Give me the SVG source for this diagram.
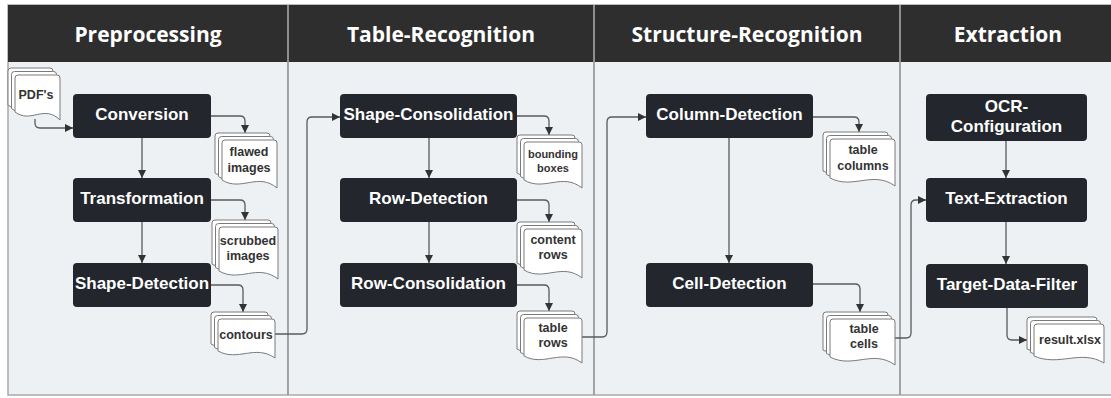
<svg xmlns="http://www.w3.org/2000/svg" width="1111" height="398" viewBox="0 0 1111 398">
<style>
.lane{fill:#eef1f4;stroke:#a9a9a9;stroke-width:1.5}
.hdr{fill:#2e2e2e}
.div{stroke:#9a9a9a;stroke-width:1.8}
.htxt{font-family:"Open Sans","Liberation Sans",sans-serif;font-weight:bold;font-size:21px;fill:#ffffff;text-anchor:middle}
.node{fill:#23262d}
.ntxt{font-family:"Liberation Sans",Arial,sans-serif;font-weight:bold;font-size:17px;fill:#ffffff;text-anchor:middle}
.pg{fill:#ffffff;stroke:#7a7a7a;stroke-width:1}
.dtxt{font-family:"Liberation Sans",Arial,sans-serif;font-weight:bold;font-size:12.5px;fill:#333333;text-anchor:middle}
.con{fill:none;stroke:#5a5a5a;stroke-width:1.3}
</style>
<defs>
<marker id="ah" viewBox="0 0 10 10" refX="10" refY="5" markerWidth="8" markerHeight="8" markerUnits="userSpaceOnUse" orient="auto">
<path d="M0,0 L10,5 L0,10 Z" fill="#333333"/>
</marker>
</defs>

<!-- frame / lanes -->
<g id="frame">
<rect class="lane" x="8" y="5" width="1112" height="390"/>
<rect class="hdr" x="8" y="5" width="1112" height="57"/>
<line class="div" x1="288" y1="5" x2="288" y2="395"/>
<line class="div" x1="594" y1="5" x2="594" y2="395"/>
<line class="div" x1="900" y1="5" x2="900" y2="395"/>
<text class="htxt" x="148" y="42">Preprocessing</text>
<text class="htxt" x="441" y="42">Table-Recognition</text>
<text class="htxt" x="747" y="42">Structure-Recognition</text>
<text class="htxt" x="1008" y="42">Extraction</text>
</g>

<!-- connectors -->
<g id="connectors">
<path class="con" marker-end="url(#ah)" d="M35,119 V123 Q35,128 40,128 H73"/>
<path class="con" marker-end="url(#ah)" d="M211,116 H240 Q245,116 245,121 V133"/>
<path class="con" marker-end="url(#ah)" d="M142,138 V178"/>
<path class="con" marker-end="url(#ah)" d="M211,200 H240 Q245,200 245,205 V220"/>
<path class="con" marker-end="url(#ah)" d="M142,222 V263"/>
<path class="con" marker-end="url(#ah)" d="M211,285 H238 Q243,285 243,290 V312"/>
<path class="con" marker-end="url(#ah)" d="M275,334 H302 Q307,334 307,329 V122 Q307,117 312,117 H340"/>
<path class="con" marker-end="url(#ah)" d="M517,116 H544 Q549,116 549,121 V135"/>
<path class="con" marker-end="url(#ah)" d="M429,138 V178"/>
<path class="con" marker-end="url(#ah)" d="M517,200 H544 Q549,200 549,205 V222"/>
<path class="con" marker-end="url(#ah)" d="M429,222 V263"/>
<path class="con" marker-end="url(#ah)" d="M517,285 H544 Q549,285 549,290 V311"/>
<path class="con" marker-end="url(#ah)" d="M582,337 H602 Q607,337 607,332 V122 Q607,117 612,117 H646"/>
<path class="con" marker-end="url(#ah)" d="M813,117 H854 Q859,117 859,122 V132"/>
<path class="con" marker-end="url(#ah)" d="M729,138 V263"/>
<path class="con" marker-end="url(#ah)" d="M813,284 H855 Q860,284 860,289 V312"/>
<path class="con" marker-end="url(#ah)" d="M895,338 H906 Q911,338 911,333 V205 Q911,200 916,200 H926"/>
<path class="con" marker-end="url(#ah)" d="M1006,141 V178"/>
<path class="con" marker-end="url(#ah)" d="M1006,222 V264"/>
<path class="con" marker-end="url(#ah)" d="M1007,308 V335 Q1007,340 1012,340 H1027"/>
</g>

<!-- process nodes -->
<g id="n-conversion"><rect class="node" x="73" y="94" width="138" height="44" rx="4"/><text class="ntxt" x="142" y="120">Conversion</text></g>
<g id="n-transformation"><rect class="node" x="73" y="178" width="138" height="44" rx="4"/><text class="ntxt" x="142" y="204">Transformation</text></g>
<g id="n-shape-detection"><rect class="node" x="73" y="263" width="138" height="44" rx="4"/><text class="ntxt" x="142" y="289">Shape-Detection</text></g>
<g id="n-shape-consolidation"><rect class="node" x="340" y="94" width="177" height="44" rx="4"/><text class="ntxt" x="428.5" y="120">Shape-Consolidation</text></g>
<g id="n-row-detection"><rect class="node" x="340" y="178" width="177" height="44" rx="4"/><text class="ntxt" x="428.5" y="204">Row-Detection</text></g>
<g id="n-row-consolidation"><rect class="node" x="340" y="263" width="177" height="44" rx="4"/><text class="ntxt" x="428.5" y="289">Row-Consolidation</text></g>
<g id="n-column-detection"><rect class="node" x="646" y="94" width="167" height="44" rx="4"/><text class="ntxt" x="729.5" y="120">Column-Detection</text></g>
<g id="n-cell-detection"><rect class="node" x="646" y="263" width="167" height="44" rx="4"/><text class="ntxt" x="729.5" y="289">Cell-Detection</text></g>
<g id="n-ocr-configuration"><rect class="node" x="926" y="94" width="161" height="47" rx="4"/><text class="ntxt" x="1006.5" y="112">OCR-</text><text class="ntxt" x="1006.5" y="132">Configuration</text></g>
<g id="n-text-extraction"><rect class="node" x="926" y="178" width="161" height="44" rx="4"/><text class="ntxt" x="1006.5" y="204">Text-Extraction</text></g>
<g id="n-target-data-filter"><rect class="node" x="926" y="264" width="162" height="44" rx="4"/><text class="ntxt" x="1007" y="290">Target-Data-Filter</text></g>

<!-- document stacks -->
<g id="d-pdfs" transform="translate(8,68)">
<path class="pg" d="M0,3 Q0,0 3,0 H42 Q45,0 45,3 V45 C29,29 16,49 0,37 Z"/>
<path class="pg" transform="translate(3.5,3.5)" d="M0,3 Q0,0 3,0 H42 Q45,0 45,3 V45 C29,29 16,49 0,37 Z"/>
<path class="pg" transform="translate(7,7)" d="M0,3 Q0,0 3,0 H42 Q45,0 45,3 V45 C29,29 16,49 0,37 Z"/>
<text class="dtxt" x="28" y="31">PDF's</text>
</g>
<g id="d-flawed-images" transform="translate(215,133)">
<path class="pg" d="M0,3 Q0,0 3,0 H52 Q55,0 55,3 V48 C36,32 19,52 0,40 Z"/>
<path class="pg" transform="translate(3.5,3.5)" d="M0,3 Q0,0 3,0 H52 Q55,0 55,3 V48 C36,32 19,52 0,40 Z"/>
<path class="pg" transform="translate(7,7)" d="M0,3 Q0,0 3,0 H52 Q55,0 55,3 V48 C36,32 19,52 0,40 Z"/>
<text class="dtxt" x="34" y="23">flawed</text><text class="dtxt" x="34" y="39">images</text>
</g>
<g id="d-scrubbed-images" transform="translate(212,220)">
<path class="pg" d="M0,3 Q0,0 3,0 H56 Q59,0 59,3 V52 C38,36 21,56 0,44 Z"/>
<path class="pg" transform="translate(3.5,3.5)" d="M0,3 Q0,0 3,0 H56 Q59,0 59,3 V52 C38,36 21,56 0,44 Z"/>
<path class="pg" transform="translate(7,7)" d="M0,3 Q0,0 3,0 H56 Q59,0 59,3 V52 C38,36 21,56 0,44 Z"/>
<text class="dtxt" x="36" y="25">scrubbed</text><text class="dtxt" x="36" y="40">images</text>
</g>
<g id="d-contours" transform="translate(211,312)">
<path class="pg" d="M0,3 Q0,0 3,0 H54 Q57,0 57,3 V39 C37,25 20,43 0,32 Z"/>
<path class="pg" transform="translate(3.5,3.5)" d="M0,3 Q0,0 3,0 H54 Q57,0 57,3 V39 C37,25 20,43 0,32 Z"/>
<path class="pg" transform="translate(7,7)" d="M0,3 Q0,0 3,0 H54 Q57,0 57,3 V39 C37,25 20,43 0,32 Z"/>
<text class="dtxt" x="35" y="26.5">contours</text>
</g>
<g id="d-bounding-boxes" transform="translate(517,135)">
<path class="pg" d="M0,3 Q0,0 3,0 H55 Q58,0 58,3 V46 C38,30 20,50 0,38 Z"/>
<path class="pg" transform="translate(3.5,3.5)" d="M0,3 Q0,0 3,0 H55 Q58,0 58,3 V46 C38,30 20,50 0,38 Z"/>
<path class="pg" transform="translate(7,7)" d="M0,3 Q0,0 3,0 H55 Q58,0 58,3 V46 C38,30 20,50 0,38 Z"/>
<text class="dtxt" x="36" y="23" style="font-size:11px">bounding</text><text class="dtxt" x="36" y="37" style="font-size:11px">boxes</text>
</g>
<g id="d-content-rows" transform="translate(517,222)">
<path class="pg" d="M0,3 Q0,0 3,0 H55 Q58,0 58,3 V49 C38,33 20,53 0,41 Z"/>
<path class="pg" transform="translate(3.5,3.5)" d="M0,3 Q0,0 3,0 H55 Q58,0 58,3 V49 C38,33 20,53 0,41 Z"/>
<path class="pg" transform="translate(7,7)" d="M0,3 Q0,0 3,0 H55 Q58,0 58,3 V49 C38,33 20,53 0,41 Z"/>
<text class="dtxt" x="36" y="22">content</text><text class="dtxt" x="36" y="37">rows</text>
</g>
<g id="d-table-rows" transform="translate(517,311)">
<path class="pg" d="M0,3 Q0,0 3,0 H55 Q58,0 58,3 V45 C38,30 20,49 0,38 Z"/>
<path class="pg" transform="translate(3.5,3.5)" d="M0,3 Q0,0 3,0 H55 Q58,0 58,3 V45 C38,30 20,49 0,38 Z"/>
<path class="pg" transform="translate(7,7)" d="M0,3 Q0,0 3,0 H55 Q58,0 58,3 V45 C38,30 20,49 0,38 Z"/>
<text class="dtxt" x="36" y="21">table</text><text class="dtxt" x="36" y="36">rows</text>
</g>
<g id="d-table-columns" transform="translate(823,132)">
<path class="pg" d="M0,3 Q0,0 3,0 H62 Q65,0 65,3 V47 C43,31 23,51 0,39 Z"/>
<path class="pg" transform="translate(3.5,3.5)" d="M0,3 Q0,0 3,0 H62 Q65,0 65,3 V47 C43,31 23,51 0,39 Z"/>
<path class="pg" transform="translate(7,7)" d="M0,3 Q0,0 3,0 H62 Q65,0 65,3 V47 C43,31 23,51 0,39 Z"/>
<text class="dtxt" x="40" y="22">table</text><text class="dtxt" x="40" y="38">columns</text>
</g>
<g id="d-table-cells" transform="translate(823,312)">
<path class="pg" d="M0,3 Q0,0 3,0 H62 Q65,0 65,3 V46 C43,30 23,50 0,38 Z"/>
<path class="pg" transform="translate(3.5,3.5)" d="M0,3 Q0,0 3,0 H62 Q65,0 65,3 V46 C43,30 23,50 0,38 Z"/>
<path class="pg" transform="translate(7,7)" d="M0,3 Q0,0 3,0 H62 Q65,0 65,3 V46 C43,30 23,50 0,38 Z"/>
<text class="dtxt" x="41" y="21">table</text><text class="dtxt" x="41" y="36">cells</text>
</g>
<g id="d-result-xlsx" transform="translate(1027,317)">
<path class="pg" d="M0,3 Q0,0 3,0 H67 Q70,0 70,3 V39 C47,25 25,43 0,32 Z"/>
<path class="pg" transform="translate(3.5,3.5)" d="M0,3 Q0,0 3,0 H67 Q70,0 70,3 V39 C47,25 25,43 0,32 Z"/>
<path class="pg" transform="translate(7,7)" d="M0,3 Q0,0 3,0 H67 Q70,0 70,3 V39 C47,25 25,43 0,32 Z"/>
<text class="dtxt" x="43" y="26.5">result.xlsx</text>
</g>
</svg>
